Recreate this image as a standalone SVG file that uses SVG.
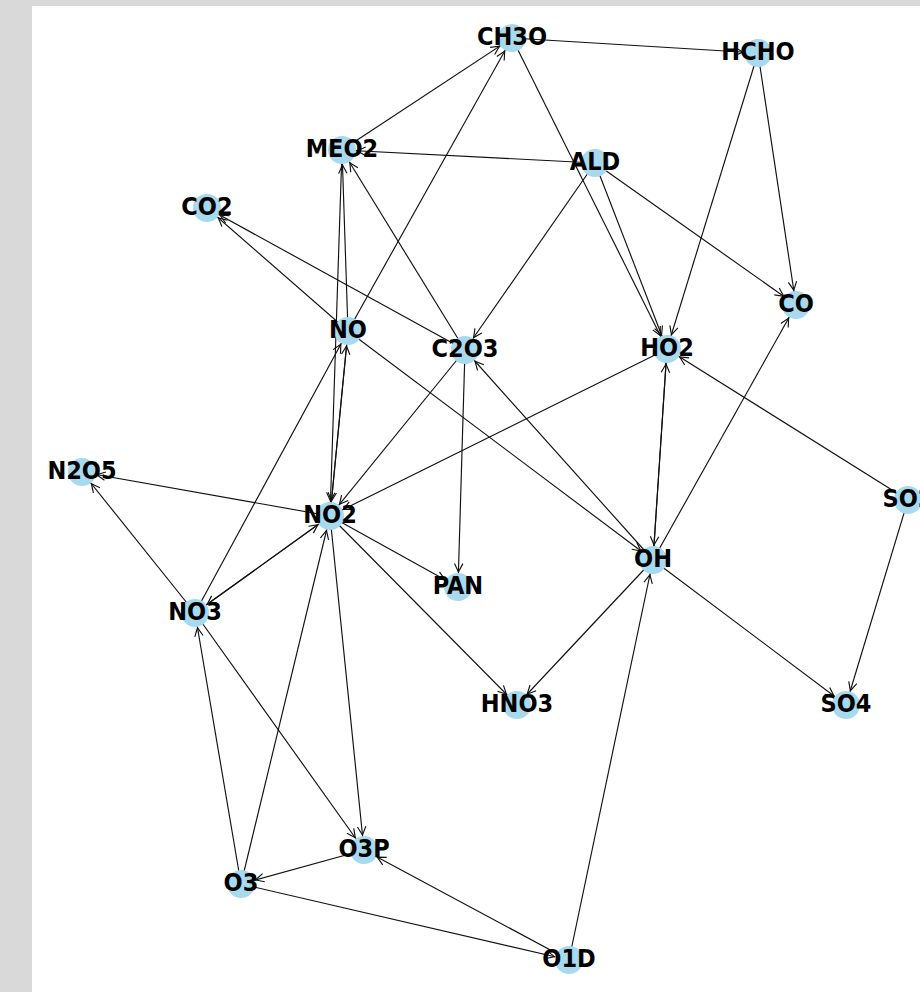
<svg xmlns="http://www.w3.org/2000/svg" width="920" height="992" viewBox="0 0 920 992">
<style>
.e{stroke:#111;stroke-width:1.15;fill:none;marker-end:url(#ah)}
.n circle{fill:#a7d9ef}
.n text{font-family:"DejaVu Sans Condensed","DejaVu Sans",sans-serif;font-stretch:condensed;font-weight:bold;font-size:25px;text-anchor:middle;fill:#000}
</style>
<defs>
<marker id="ah" markerUnits="userSpaceOnUse" orient="auto" markerWidth="40" markerHeight="20" viewBox="-30 -10 40 20" refX="0" refY="0" overflow="visible">
<path d="M-23.5,-4.2 L-15,0 L-23.5,4.2" fill="none" stroke="#111" stroke-width="1.15"/>
</marker>
</defs>
<rect x="0" y="0" width="920" height="992" fill="#d9d9d9"/>
<rect x="32" y="6" width="888" height="986" fill="#ffffff"/>
<g id="edges">
<line class="e" x1="512" y1="38" x2="758" y2="53"/>
<line class="e" x1="512" y1="38" x2="667" y2="349"/>
<line class="e" x1="342" y1="150" x2="512" y2="38"/>
<line class="e" x1="348" y1="331" x2="512" y2="38"/>
<line class="e" x1="342" y1="150" x2="330" y2="516"/>
<line class="e" x1="348" y1="331" x2="330" y2="516"/>
<line class="e" x1="595" y1="163" x2="342" y2="150"/>
<line class="e" x1="595" y1="163" x2="667" y2="349"/>
<line class="e" x1="595" y1="163" x2="796" y2="305"/>
<line class="e" x1="595" y1="163" x2="465" y2="350"/>
<line class="e" x1="653" y1="560" x2="465" y2="350"/>
<line class="e" x1="758" y1="53" x2="667" y2="349"/>
<line class="e" x1="758" y1="53" x2="796" y2="305"/>
<line class="e" x1="653" y1="560" x2="796" y2="305"/>
<line class="e" x1="653" y1="560" x2="667" y2="349"/>
<line class="e" x1="667" y1="349" x2="653" y2="560"/>
<line class="e" x1="908" y1="500" x2="667" y2="349"/>
<line class="e" x1="908" y1="500" x2="846" y2="705"/>
<line class="e" x1="653" y1="560" x2="846" y2="705"/>
<line class="e" x1="465" y1="350" x2="342" y2="150"/>
<line class="e" x1="465" y1="350" x2="207" y2="208"/>
<line class="e" x1="348" y1="331" x2="207" y2="208"/>
<line class="e" x1="465" y1="350" x2="330" y2="516"/>
<line class="e" x1="348" y1="331" x2="342" y2="150"/>
<line class="e" x1="465" y1="350" x2="458" y2="587"/>
<line class="e" x1="330" y1="516" x2="458" y2="587"/>
<line class="e" x1="330" y1="516" x2="348" y2="331"/>
<line class="e" x1="330" y1="516" x2="364" y2="850"/>
<line class="e" x1="364" y1="850" x2="241" y2="884"/>
<line class="e" x1="241" y1="884" x2="330" y2="516"/>
<line class="e" x1="241" y1="884" x2="195" y2="613"/>
<line class="e" x1="330" y1="516" x2="195" y2="613"/>
<line class="e" x1="195" y1="613" x2="330" y2="516"/>
<line class="e" x1="195" y1="613" x2="82" y2="472"/>
<line class="e" x1="330" y1="516" x2="82" y2="472"/>
<line class="e" x1="195" y1="613" x2="348" y2="331"/>
<line class="e" x1="195" y1="613" x2="364" y2="850"/>
<line class="e" x1="241" y1="884" x2="569" y2="960"/>
<line class="e" x1="569" y1="960" x2="653" y2="560"/>
<line class="e" x1="569" y1="960" x2="364" y2="850"/>
<line class="e" x1="330" y1="516" x2="517" y2="705"/>
<line class="e" x1="653" y1="560" x2="517" y2="705"/>
<line class="e" x1="667" y1="349" x2="330" y2="516"/>
<line class="e" x1="348" y1="331" x2="653" y2="560"/>
</g>
<g id="node-CH3O" class="n"><circle cx="512" cy="38" r="14"/><text x="512" y="45">CH3O</text></g>
<g id="node-HCHO" class="n"><circle cx="758" cy="53" r="14"/><text x="758" y="60">HCHO</text></g>
<g id="node-MEO2" class="n"><circle cx="342" cy="150" r="14"/><text x="342" y="157">MEO2</text></g>
<g id="node-ALD" class="n"><circle cx="595" cy="163" r="14"/><text x="595" y="170">ALD</text></g>
<g id="node-CO2" class="n"><circle cx="207" cy="208" r="14"/><text x="207" y="215">CO2</text></g>
<g id="node-CO" class="n"><circle cx="796" cy="305" r="14"/><text x="796" y="312">CO</text></g>
<g id="node-NO" class="n"><circle cx="348" cy="331" r="14"/><text x="348" y="338">NO</text></g>
<g id="node-C2O3" class="n"><circle cx="465" cy="350" r="14"/><text x="465" y="357">C2O3</text></g>
<g id="node-HO2" class="n"><circle cx="667" cy="349" r="14"/><text x="667" y="356">HO2</text></g>
<g id="node-N2O5" class="n"><circle cx="82" cy="472" r="14"/><text x="82" y="479">N2O5</text></g>
<g id="node-SO2" class="n"><circle cx="908" cy="500" r="14"/><text x="908" y="507">SO2</text></g>
<g id="node-NO2" class="n"><circle cx="330" cy="516" r="14"/><text x="330" y="523">NO2</text></g>
<g id="node-OH" class="n"><circle cx="653" cy="560" r="14"/><text x="653" y="567">OH</text></g>
<g id="node-PAN" class="n"><circle cx="458" cy="587" r="14"/><text x="458" y="594">PAN</text></g>
<g id="node-NO3" class="n"><circle cx="195" cy="613" r="14"/><text x="195" y="620">NO3</text></g>
<g id="node-HNO3" class="n"><circle cx="517" cy="705" r="14"/><text x="517" y="712">HNO3</text></g>
<g id="node-SO4" class="n"><circle cx="846" cy="705" r="14"/><text x="846" y="712">SO4</text></g>
<g id="node-O3P" class="n"><circle cx="364" cy="850" r="14"/><text x="364" y="857">O3P</text></g>
<g id="node-O3" class="n"><circle cx="241" cy="884" r="14"/><text x="241" y="891">O3</text></g>
<g id="node-O1D" class="n"><circle cx="569" cy="960" r="14"/><text x="569" y="967">O1D</text></g>
</svg>
